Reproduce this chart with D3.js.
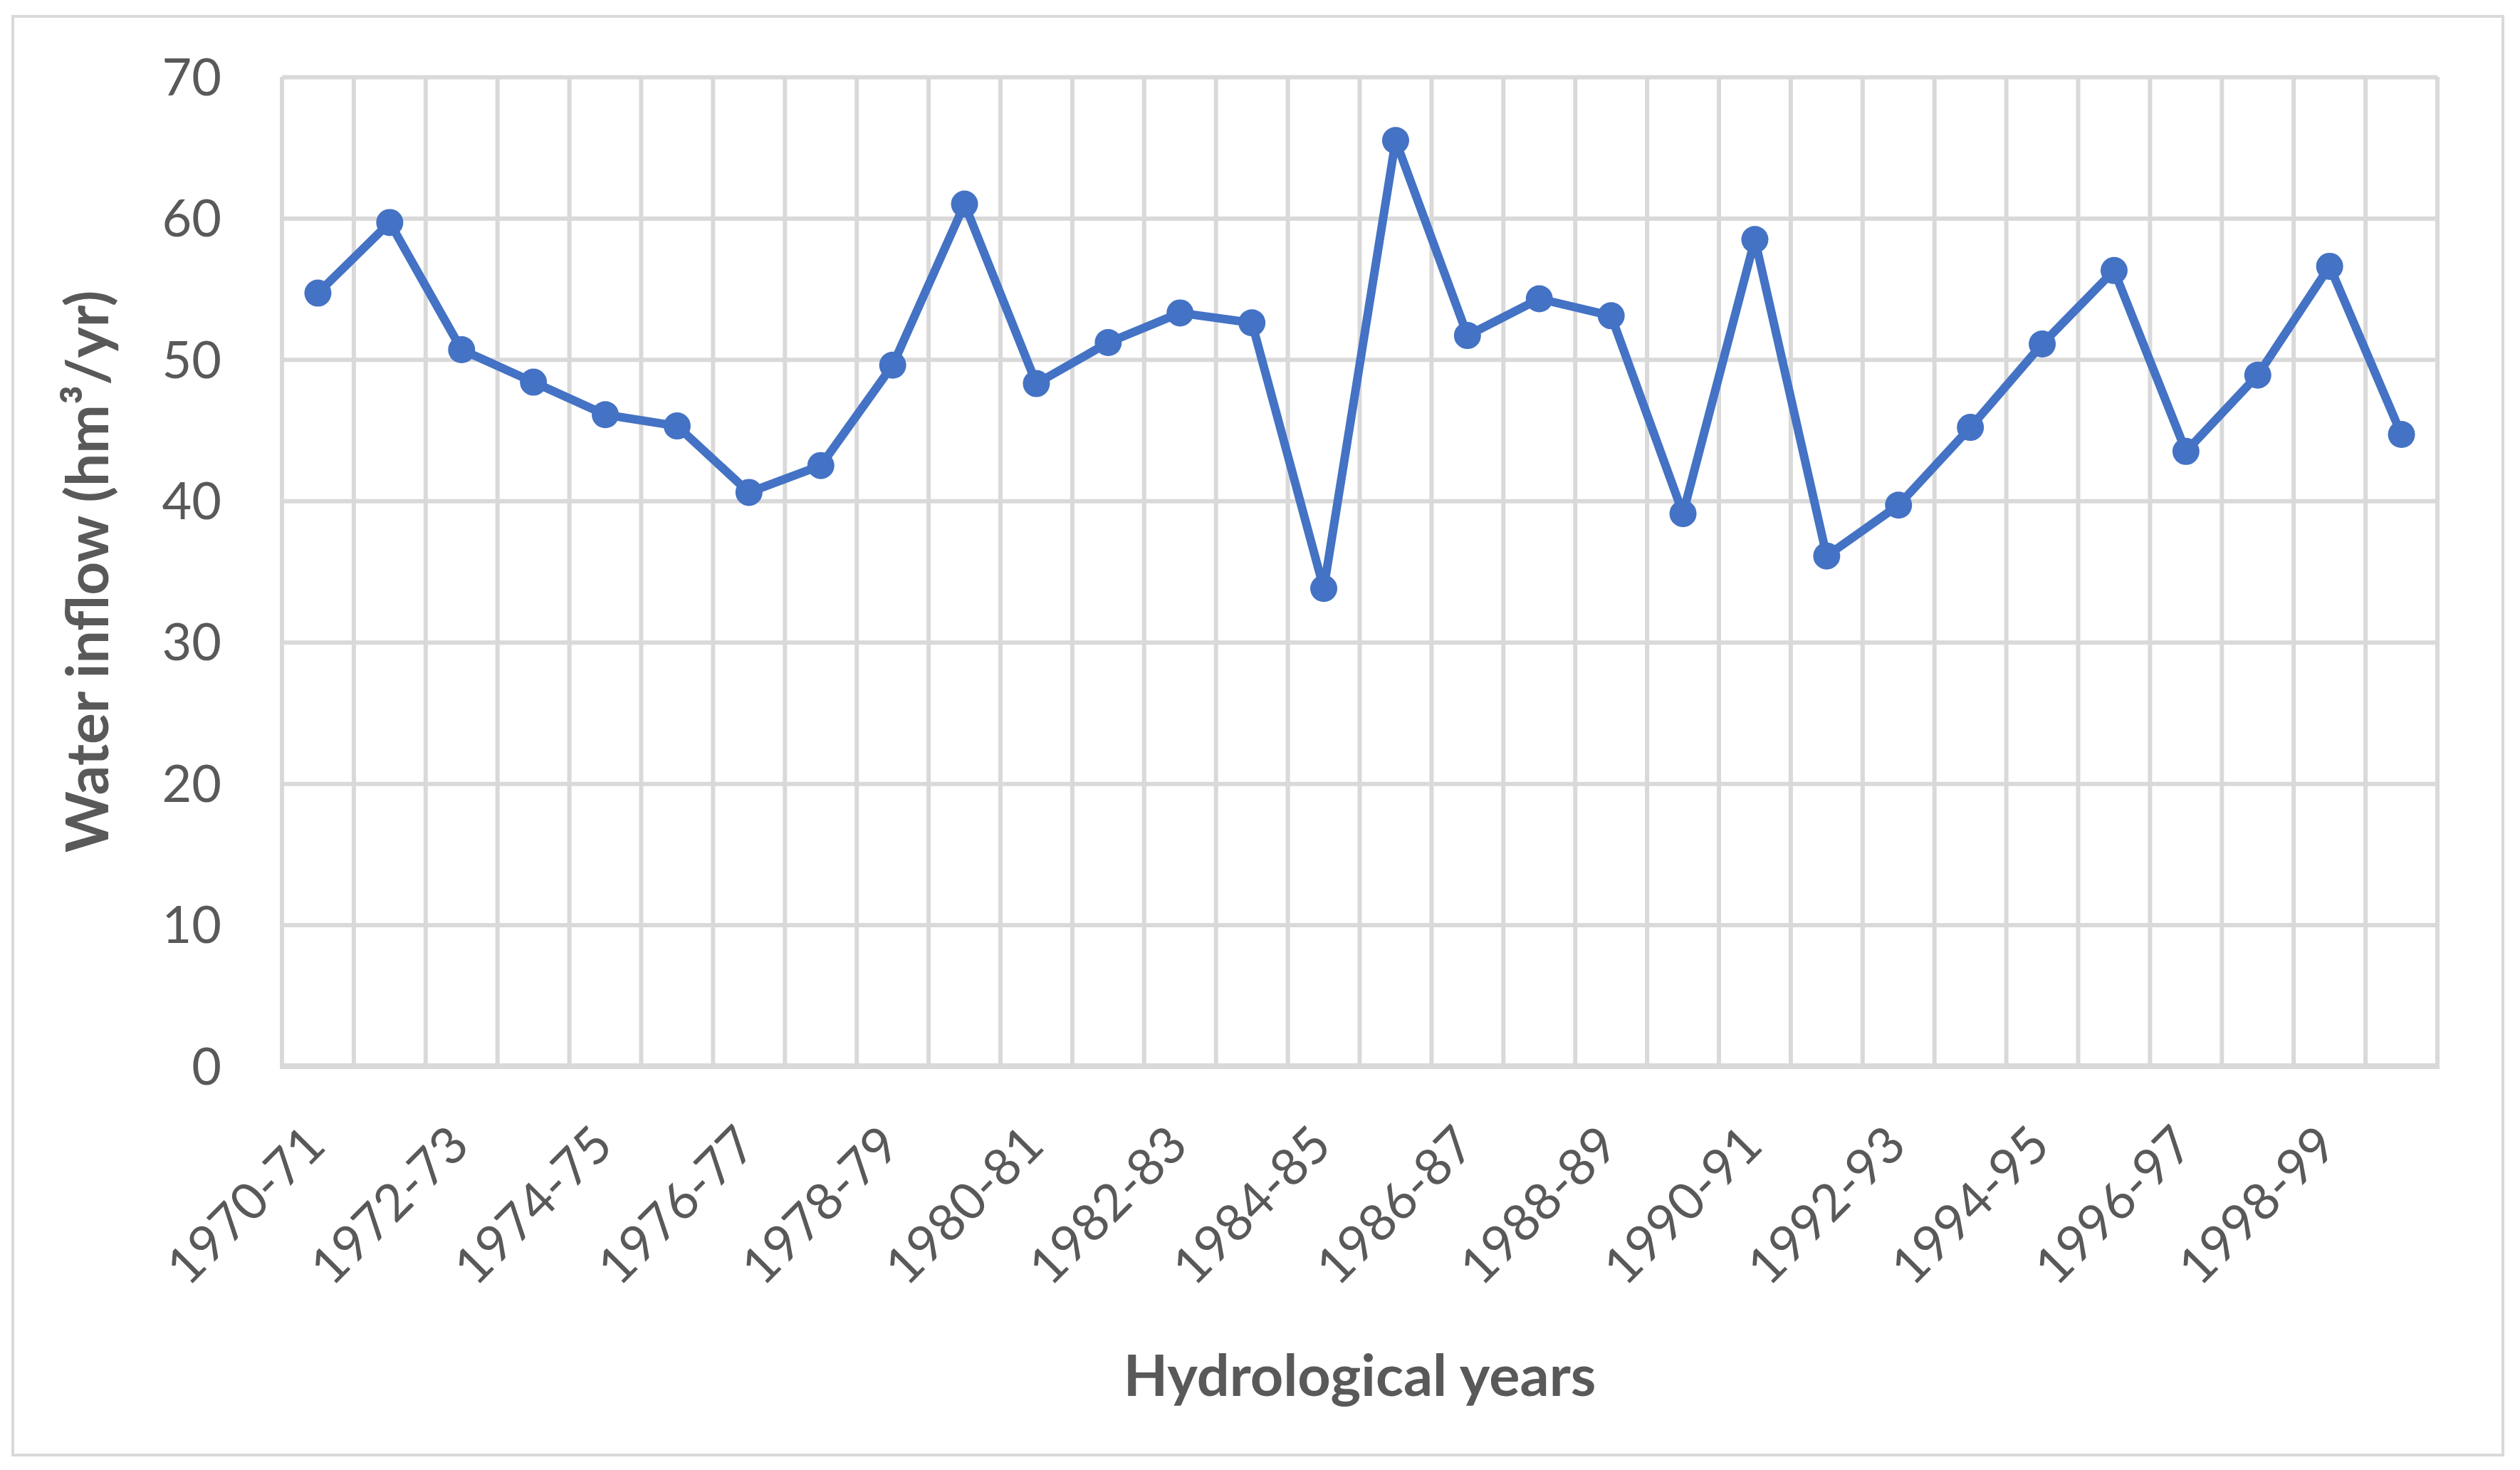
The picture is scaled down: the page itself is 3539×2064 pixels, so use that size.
<!DOCTYPE html>
<html>
<head>
<meta charset="utf-8">
<script src="https://cdn.jsdelivr.net/npm/d3@7"></script>
<style>
  html, body { margin: 0; padding: 0; background: #ffffff; }
  svg { display: block; }
</style>
</head>
<body>
<script>
const categories = [
  "1970-71","1971-72","1972-73","1973-74","1974-75","1975-76","1976-77","1977-78",
  "1978-79","1979-80","1980-81","1981-82","1982-83","1983-84","1984-85","1985-86",
  "1986-87","1987-88","1988-89","1989-90","1990-91","1991-92","1992-93","1993-94",
  "1994-95","1995-96","1996-97","1997-98","1998-99","1999-00"
];
const inflow = [
  54.7, 59.7, 50.7, 48.4, 46.1, 45.3, 40.6, 42.5,
  49.6, 61.0, 48.3, 51.2, 53.3, 52.6, 33.8, 65.5,
  51.7, 54.3, 53.1, 39.1, 58.5, 36.1, 39.7, 45.2,
  51.1, 56.3, 43.5, 48.9, 56.6, 44.7
];
const yTicks = [0, 10, 20, 30, 40, 50, 60, 70];
const xTickLabels = categories.filter((d, i) => i % 2 === 0);
const yTitle = "Water inflow (hm\u00B3/yr)";
const xTitle = "Hydrological years";

const W = 3539, H = 2064;
const plot = { left: 396, right: 3423, top: 108, bottom: 1497 };
const gridColor = "#d9d9d9";
const textColor = "#595959";
const lineColor = "#4472c4";
const font = "Lato, 'Open Sans', 'Liberation Sans', sans-serif";

const svg = d3.select("body").append("svg")
  .attr("width", W).attr("height", H)
  .style("background", "#ffffff");

// outer chart border
svg.append("rect")
  .attr("x", 18).attr("y", 23)
  .attr("width", 3515 - 18).attr("height", 2043 - 23)
  .attr("fill", "#ffffff").attr("stroke", gridColor).attr("stroke-width", 4);

const x = d3.scaleBand().domain(categories).range([plot.left, plot.right]).paddingInner(0).paddingOuter(0);
const y = d3.scaleLinear().domain([0, 70]).range([plot.bottom, plot.top]);

// vertical gridlines at category boundaries
const boundaries = categories.map(c => x(c)).concat([x(categories[categories.length - 1]) + x.bandwidth()]);
svg.append("g").selectAll("line").data(boundaries).join("line")
  .attr("x1", d => d).attr("x2", d => d)
  .attr("y1", y(70)).attr("y2", y(0))
  .attr("stroke", gridColor).attr("stroke-width", 6);

// y axis with horizontal gridlines
const yAxis = svg.append("g")
  .attr("transform", `translate(${plot.left},0)`)
  .call(d3.axisLeft(y).tickValues(yTicks).tickSize(-(plot.right - plot.left)).tickPadding(85));
yAxis.select(".domain").remove();
yAxis.selectAll(".tick line").attr("stroke", gridColor).attr("stroke-width", 6);
yAxis.selectAll(".tick text")
  .attr("fill", textColor).style("font-family", font).style("font-size", "72px")
  .attr("dy", "0.35em");

// x axis line
svg.append("line")
  .attr("x1", plot.left - 3).attr("x2", plot.right + 3)
  .attr("y1", y(0)).attr("y2", y(0))
  .attr("stroke", gridColor).attr("stroke-width", 8);

// x axis labels
const xAxis = svg.append("g")
  .attr("transform", `translate(0,${plot.bottom})`)
  .call(d3.axisBottom(x).tickValues(xTickLabels).tickSize(0));
xAxis.select(".domain").remove();
xAxis.selectAll(".tick text")
  .attr("x", 0).attr("y", 0).attr("dy", 0)
  .attr("text-anchor", "end")
  .attr("transform", "translate(14,115) rotate(-45)")
  .attr("fill", textColor).style("font-family", font).style("font-size", "72px");

// line
const line = d3.line()
  .x((d, i) => x(categories[i]) + x.bandwidth() / 2)
  .y(d => y(d));
svg.append("path").datum(inflow)
  .attr("d", line)
  .attr("fill", "none").attr("stroke", lineColor).attr("stroke-width", 12)
  .attr("stroke-linejoin", "round");

svg.append("g").selectAll("circle").data(inflow).join("circle")
  .attr("cx", (d, i) => x(categories[i]) + x.bandwidth() / 2)
  .attr("cy", d => y(d))
  .attr("r", 19)
  .attr("fill", lineColor);

// axis titles
svg.append("text")
  .attr("transform", `translate(152,${(plot.top + plot.bottom) / 2}) rotate(-90)`)
  .attr("text-anchor", "middle")
  .attr("fill", textColor).style("font-family", font).style("font-weight", "bold").style("font-size", "82px")
  .text(yTitle);

svg.append("text")
  .attr("x", (plot.left + plot.right) / 2).attr("y", 1960)
  .attr("text-anchor", "middle")
  .attr("fill", textColor).style("font-family", font).style("font-weight", "bold").style("font-size", "81px")
  .text(xTitle);
</script>
</body>
</html>
